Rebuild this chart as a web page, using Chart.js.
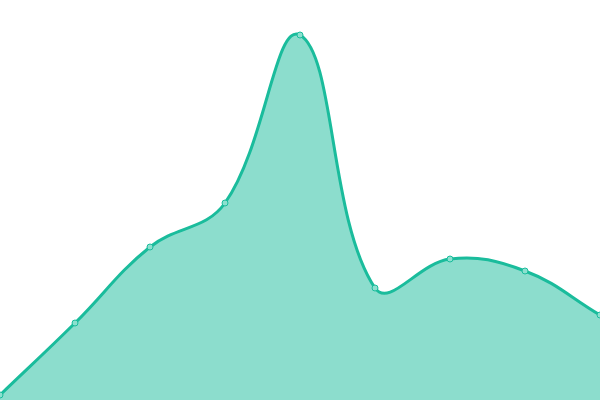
<!DOCTYPE html>
<html>
<head>
<meta charset="utf-8">
<script src="https://cdn.jsdelivr.net/npm/chart.js@4/dist/chart.umd.min.js"></script>
<style>
  html, body { margin: 0; padding: 0; background: #fff; }
  #wrap { width: 600px; height: 400px; }
</style>
</head>
<body>
<div id="wrap"><canvas id="chart"></canvas></div>
<script>
// Chart data
const labels = ['1', '2', '3', '4', '5', '6', '7', '8', '9'];
const values = [1.25, 19.25, 38.25, 49.25, 91.25, 28, 35.25, 32.25, 21.25];
const yMin = 0;
const yMax = 100;

const ctx = document.getElementById('chart').getContext('2d');

new Chart(ctx, {
    type: 'line',
    data: {
        labels: labels,
        datasets: [{
            data: values,
            borderColor: '#1abc9c',
            backgroundColor: 'rgba(26, 188, 156, 0.5)',
            pointBackgroundColor: '#8ce0cf',
            pointBorderColor: '#1abc9c',
            pointRadius: 3,
            pointBorderWidth: 1,
            borderWidth: 3,
            tension: 0.4,
            fill: 'start'
        }]
    },
    options: {
        responsive: true,
        maintainAspectRatio: false,
        animation: false,
        layout: { padding: 0, autoPadding: false },
        plugins: {
            legend: { display: false },
            tooltip: { enabled: false }
        },
        scales: {
            x: { display: false },
            y: { display: false, min: yMin, max: yMax }
        }
    }
});
</script>
</body>
</html>
